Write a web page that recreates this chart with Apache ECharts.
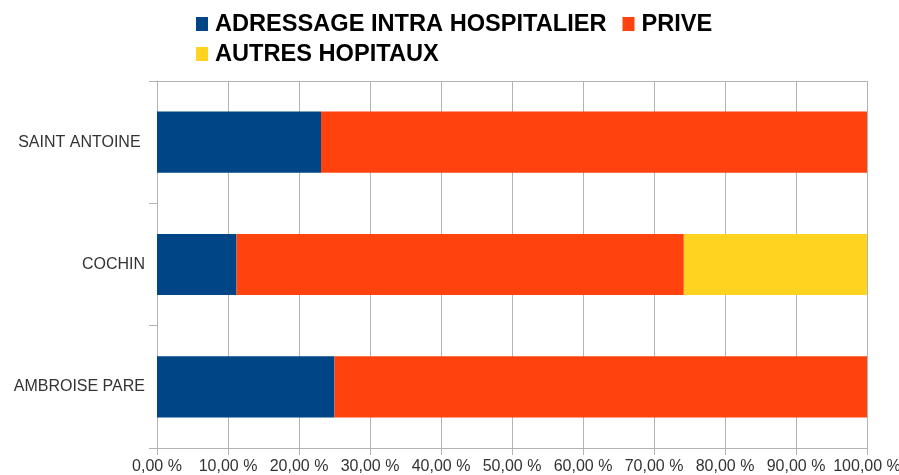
<!DOCTYPE html>
<html>
<head>
<meta charset="utf-8">
<script src="https://cdn.jsdelivr.net/npm/echarts@6/dist/echarts.min.js"></script>
<style>html,body{margin:0;padding:0;background:#fff}#c{width:899px;height:475px}</style>
</head>
<body>
<div id="c"></div>
<script>
const categories = ['SAINT ANTOINE ', 'COCHIN', 'AMBROISE PARE'];
const seriesNames = ['ADRESSAGE INTRA HOSPITALIER', 'PRIVE', 'AUTRES HOPITAUX'];
const adressage = [23.1, 11.2, 25.0];
const prive = [76.9, 63.0, 75.0];
const autres = [0, 25.8, 0];
const colors = ['#004586', '#ff420e', '#ffd320'];

const chart = echarts.init(document.getElementById('c'));
const gridColor = '#b3b3b3';
const legendBase = {
  left: 196, padding: 0, orient: 'horizontal',
  itemWidth: 12, itemHeight: 14, itemGap: 16,
  icon: 'rect',
  textStyle: { fontFamily: 'Liberation Sans', fontWeight: 'bold', fontSize: 23.6, color: '#000', padding: [0, 0, 0, 2] }
};
chart.setOption({
  animation: false,
  textStyle: { fontFamily: 'Liberation Sans' },
  legend: [
    Object.assign({}, legendBase, { top: 12, data: seriesNames.slice(0, 2) }),
    Object.assign({}, legendBase, { top: 42, data: seriesNames.slice(2) })
  ],
  grid: { left: 157, right: 32, top: 81, bottom: 27, containLabel: false, outerBoundsMode: 'none' },
  xAxis: [{
    type: 'value', min: 0, max: 100, interval: 10,
    axisLine: { show: true, lineStyle: { color: gridColor } },
    axisTick: { show: true, length: 7, lineStyle: { color: gridColor } },
    splitLine: { show: true, lineStyle: { color: gridColor } },
    axisLabel: { fontSize: 16, color: '#333', margin: 11, fontFamily: 'Liberation Sans',
      formatter: v => v.toFixed(2).replace('.', ',') + ' %' }
  }, {
    type: 'value', min: 0, max: 100, position: 'top',
    axisLine: { show: true, lineStyle: { color: gridColor } },
    axisTick: { show: false }, axisLabel: { show: false }, splitLine: { show: false }
  }],
  yAxis: {
    type: 'category', data: categories, inverse: true,
    axisLine: { show: true, lineStyle: { color: gridColor } },
    axisTick: { show: true, length: 8, lineStyle: { color: gridColor } },
    axisLabel: { fontSize: 16, color: '#333', margin: 12, fontFamily: 'Liberation Sans' }
  },
  series: [
    { name: seriesNames[0], type: 'bar', stack: 's', data: adressage, barWidth: '50%', itemStyle: { color: colors[0] } },
    { name: seriesNames[1], type: 'bar', stack: 's', data: prive, barWidth: '50%', itemStyle: { color: colors[1] } },
    { name: seriesNames[2], type: 'bar', stack: 's', data: autres, barWidth: '50%', itemStyle: { color: colors[2] } }
  ]
});
</script>
</body>
</html>
